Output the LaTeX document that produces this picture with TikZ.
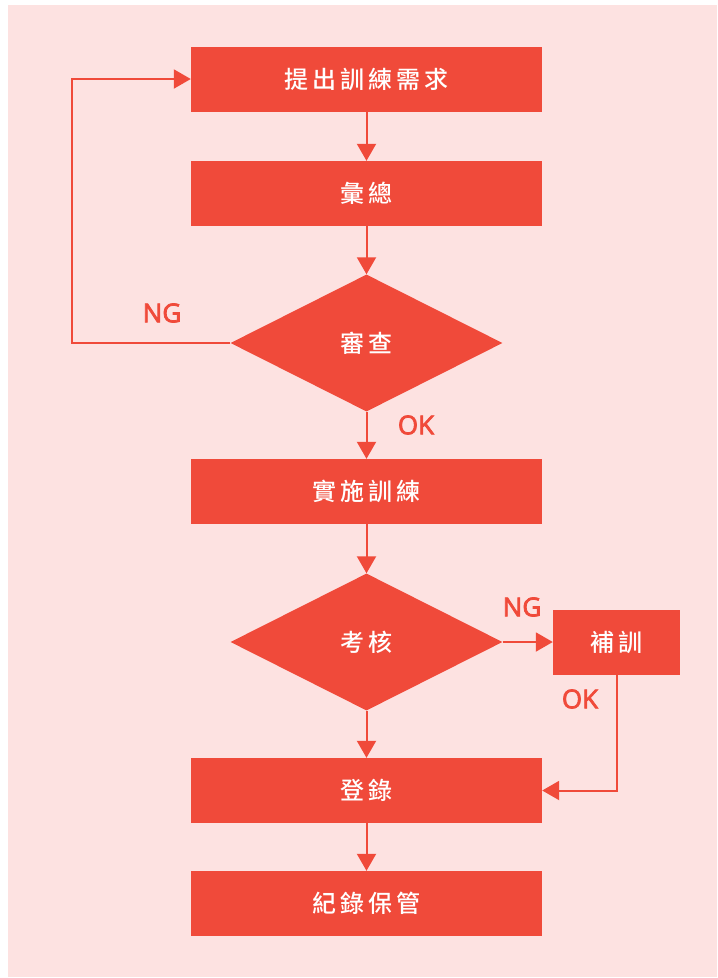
\documentclass[tikz,border=0pt]{standalone}
\usepackage{fontspec}
\usetikzlibrary{arrows.meta,shapes.geometric}
\newfontfamily\cjkfont{Noto Sans CJK TC Medium}[LetterSpace=16]
\newfontfamily\labfont{Open Sans}[FakeBold=3]
\definecolor{flred}{HTML}{F04A3A}
\definecolor{flbg}{HTML}{FDE2E1}
\tikzset{
  procbox/.style={fill=flred, draw=none, minimum width=351pt, minimum height=65pt, inner sep=0pt,
    text=white, font=\cjkfont\fontsize{24}{27}\selectfont},
  smallbox/.style={procbox, minimum width=127pt},
  decide/.style={diamond, fill=flred, draw=none, minimum width=272pt, minimum height=137pt,
    inner sep=0pt, shape aspect=1.985, text=white, font=\cjkfont\fontsize{24}{27}\selectfont},
  flow/.style={draw=flred, line width=2pt, -{Triangle[length=17pt,width=19pt]}},
  lab/.style={text=flred, font=\labfont\fontsize{26}{29}\selectfont, inner sep=0pt}
}
\begin{document}
\begin{tikzpicture}[x=1pt,y=-1pt]
\useasboundingbox (0,0) rectangle (718,978);
\fill[flbg] (8,5) rectangle (717,977);
\node[procbox] (b1) at (366.5,79) {提出訓練需求};
\node[procbox] (b2) at (366.5,193.5) {彙總};
\node[decide] (d1) at (366.5,343) {審查};
\node[procbox] (b3) at (366.5,491.5) {實施訓練};
\node[decide] (d2) at (366.5,642) {考核};
\node[smallbox] (b4) at (616.5,642) {補訓};
\node[procbox] (b5) at (366.5,790.5) {登錄};
\node[procbox] (b6) at (366.5,903.5) {紀錄保管};
\coordinate (ngl1) at (72,343);
\coordinate (ngl2) at (72,79);
\coordinate (okr) at (616.5,790.5);
\draw[flow] (b1) -- (b2);
\draw[flow] (b2) -- (d1);
\draw[flow] (d1) -- (b3);
\draw[flow] (b3) -- (d2);
\draw[flow] (d2) -- (b5);
\draw[flow] (b5) -- (b6);
\draw[flow] (d1.west) -- (ngl1) -- (ngl2) -- (b1.west);
\draw[flow] (d2.east) -- (b4.west);
\draw[flow] (b4.south) -- (okr) -- (b5.east);
\node[lab] (ng1) at (162,313) {NG};
\node[lab] (ok1) at (416,425) {OK};
\node[lab] (ng2) at (522,607) {NG};
\node[lab] (ok2) at (580,699) {OK};
\end{tikzpicture}
\end{document}
